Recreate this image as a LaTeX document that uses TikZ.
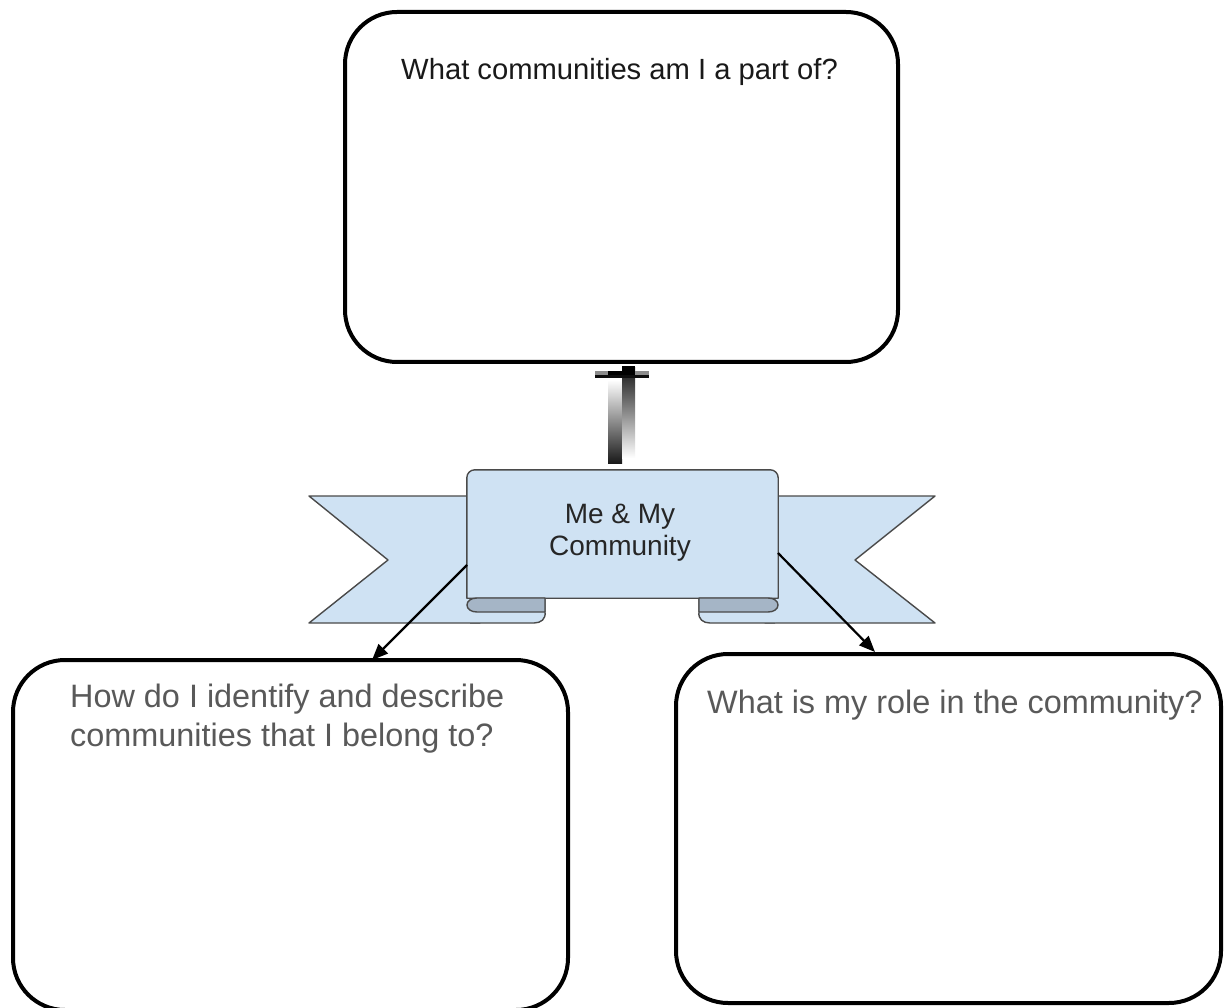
\documentclass[tikz,border=0pt]{standalone}
\usepackage{fontspec}
\setmainfont{Liberation Sans}
\usetikzlibrary{arrows.meta}
\definecolor{ribbonfill}{HTML}{CFE2F3}
\definecolor{ribbondark}{HTML}{A5B5C6}
\definecolor{ribbonline}{HTML}{4A4A4A}
\definecolor{qgray}{HTML}{595959}
\tikzset{
  qbox/.style={draw=black, line width=4pt, rounded corners=52pt, fill=white, inner sep=0pt},
  rib/.style={draw=ribbonline, line width=1.4pt, fill=ribbonfill, line join=round},
  ribdark/.style={draw=ribbonline, line width=1.4pt, fill=ribbondark, line join=round},
  qtext/.style={inner sep=0pt, text=qgray, font=\fontsize{32.4}{39}\selectfont},
  toptext/.style={inner sep=0pt, text=black!90, font=\fontsize{29.2}{35}\selectfont},
  ribtext/.style={inner sep=0pt, text=black!85, font=\fontsize{28}{32}\selectfont, align=center},
  link/.style={draw=black, line width=2.2pt, -{Triangle[length=16pt,width=13pt]}}
}
\begin{document}
\begin{tikzpicture}[x=1pt,y=-1pt]
\useasboundingbox (0,0) rectangle (1224,1008);
\clip (0,0) rectangle (1224,1008);
\fill[white] (0,0) rectangle (1224,1008);

% question boxes
\node[qbox, minimum width=553pt, minimum height=350pt] (topbox) at (621.5,187) {};
\node[qbox, minimum width=555pt, minimum height=350pt] (leftbox) at (290.5,835) {};
\node[qbox, minimum width=545pt, minimum height=349pt] (rightbox) at (948.5,828.5) {};

\node[toptext, anchor=base] (toptxt) at (619.5,80) {What communities am I a part of?};
\node[qtext, anchor=base west, align=left] (lefttxt) at (70,746) {How do I identify and describe\\communities that I belong to?};
\node[qtext, anchor=base west] (righttxt) at (707,713) {What is my role in the community?};

% ribbon wings
\draw[rib] (309,496) -- (480,496) -- (480,623) -- (309,623) -- (388,560) -- cycle;
\draw[rib] (935,496) -- (765,496) -- (765,623) -- (935,623) -- (855,560) -- cycle;
% light lower tabs
\draw[rib] (470,598) -- (545,598) -- (545,612) .. controls (546,619) and (541,623) .. (534,623) -- (470,623);
\draw[rib] (775,598) -- (699,598) -- (699,612) .. controls (698,619) and (703,623) .. (710,623) -- (775,623);
% banner
\node[inner sep=0pt, minimum width=311pt, minimum height=128pt] (banner) at (622.5,534) {};
\draw[rib] (banner.south west) -- ([yshift=-8pt]banner.north west) to[out=90,in=180] ([xshift=8pt]banner.north west)
  -- ([xshift=-8pt]banner.north east) to[out=0,in=90] ([yshift=-8pt]banner.north east) -- (banner.south east) -- cycle;
% dark folds
\draw[ribdark] (545,598) -- (477,598) .. controls (471,598) and (467,601) .. (467,605) .. controls (467,609) and (471,612) .. (477,612) -- (545,612) -- cycle;
\draw[ribdark] (699,598) -- (768,598) .. controls (774,598) and (778,601) .. (778,605) .. controls (778,609) and (774,612) .. (768,612) -- (699,612) -- cycle;
\node[ribtext, anchor=base] (ribtxt) at (620,555) {Me \& My\\[0pt]Community};

% gradient connector between banner and top box
\shade[top color=white, bottom color=black!90] (608,380) rectangle (622,463);
\shade[top color=black!90, bottom color=white] (622,368) rectangle (635,458);
\fill[black!45] (595,371) rectangle (649,375);
\fill[black] (608,371) rectangle (635,375);
\fill[black!95] (595,375) rectangle (649,378);
\fill[black] (622,366) rectangle (635,371);

% arrows
\coordinate (lstart) at (467,565);
\coordinate (lend) at (372,660);
\coordinate (rstart) at (778,553);
\coordinate (rend) at (875,652);
\draw[link] (lstart) -- (lend);
\draw[link] (rstart) -- (rend);
\end{tikzpicture}
\end{document}
